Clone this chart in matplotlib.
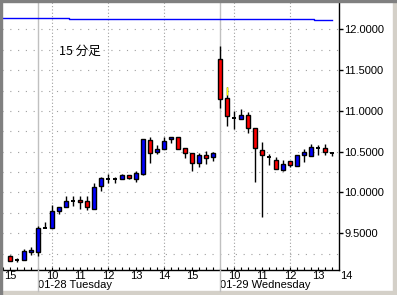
import numpy as np
import matplotlib
matplotlib.use("Agg")
import matplotlib.pyplot as plt
from matplotlib.patches import Rectangle
from matplotlib.lines import Line2D
import matplotlib.transforms as mtransforms

# 15-minute candles: prev-day 15:00-15:45, 01-28 9:30-15:45, 01-29 9:30-13:30
opens = [9.222, 9.169, 9.169, 9.267, 9.275, 9.565, 9.569, 9.777, 9.818, 9.900,
         9.904, 9.900, 9.800, 10.083, 10.169, 10.169, 10.169, 10.210, 10.169, 10.230,
         10.640, 10.500, 10.537, 10.652, 10.676, 10.540, 10.480, 10.358, 10.456, 10.430,
         11.632, 11.154, 10.917, 10.897, 10.946, 10.787, 10.517, 10.440, 10.395, 10.276,
         10.386, 10.321, 10.456, 10.451, 10.549, 10.545, 10.480]
highs = [9.234, 9.194, 9.311, 9.328, 9.589, 9.635, 9.847, 9.818, 9.957, 9.961,
         9.961, 9.957, 10.120, 10.190, 10.227, 10.194, 10.230, 10.210, 10.267, 10.650,
         10.684, 10.580, 10.676, 10.676, 10.676, 10.540, 10.480, 10.490, 10.510, 10.500,
         11.800, 11.290, 11.003, 11.023, 10.983, 10.787, 10.615, 10.468, 10.440, 10.400,
         10.386, 10.460, 10.533, 10.594, 10.586, 10.594, 10.500]
lows = [9.160, 9.145, 9.169, 9.238, 9.226, 9.565, 9.565, 9.733, 9.818, 9.831,
        9.800, 9.790, 9.800, 10.020, 10.113, 10.120, 10.169, 10.160, 10.128, 10.210,
        10.365, 10.475, 10.537, 10.610, 10.537, 10.420, 10.267, 10.310, 10.345, 10.390,
        11.040, 10.810, 10.775, 10.897, 10.733, 10.132, 9.696, 10.337, 10.284, 10.260,
        10.316, 10.321, 10.378, 10.451, 10.463, 10.463, 10.451]
closes = [9.164, 9.169, 9.283, 9.295, 9.561, 9.565, 9.777, 9.818, 9.892, 9.900,
          9.880, 9.826, 10.064, 10.174, 10.169, 10.169, 10.210, 10.174, 10.235, 10.650,
          10.490, 10.533, 10.630, 10.676, 10.537, 10.480, 10.358, 10.460, 10.420, 10.480,
          11.142, 10.940, 10.917, 10.946, 10.787, 10.542, 10.456, 10.440, 10.284, 10.350,
          10.333, 10.460, 10.496, 10.557, 10.549, 10.493, 10.480]

# yellow part of the upper wick on the 01-29 9:45 bar
mark_slot = 31
mark_top = 11.290
mark_bottom = 11.190

# blue reference line across the top (runs of equal level, one value per slot from -1)
ref_levels = [12.135, 12.123, 12.110]
ref_counts = [10, 35, 3]

hour_slots = [0, 6, 10, 14, 18, 22, 26, 32, 36, 40, 44, 48]
hour_labels = ['15', '10', '11', '12', '13', '14', '15', '10', '11', '12', '13', '14']
grid_slots = [6, 14, 22, 32, 40]
day_slots = [4, 30]
day_labels = ['01-28 Tuesday', '01-29 Wednesday']

price_ticks = [9.5, 10.0, 10.5, 11.0, 11.5, 12.0]
grid_prices = np.arange(9.25, 12.01, 0.25)

UP = '#0000ff'
DOWN = '#ff0000'
FONT = 'Liberation Sans'


def draw_candles(ax, o, h, l, c, width=0.68):
    x = np.arange(len(o))
    o, h, l, c = map(np.asarray, (o, h, l, c))
    # wicks first so bodies sit on top
    ax.vlines(x, l, h, color='black', lw=1.0, zorder=3)
    ax.vlines(mark_slot, mark_bottom, mark_top, color='#ffff00', lw=1.0, zorder=4)

    doji = np.isclose(o, c)
    body = ~doji
    lo = np.minimum(o, c)
    hi = np.maximum(o, c)
    colors = np.where(c > o, UP, DOWN)
    ax.bar(x[body], (hi - lo)[body], width, bottom=lo[body], color=colors[body],
           edgecolor='black', linewidth=1.0, zorder=5)
    # doji bars are just a short flat line
    ax.hlines(c[doji], x[doji] - width / 2, x[doji] + width / 2,
              color='black', lw=1.4, zorder=5)


def main():
    fig = plt.figure(figsize=(3.97, 2.95), dpi=100)
    fig.patch.set_facecolor('white')
    ax = fig.add_axes([2 / 397, 25 / 295, 337 / 397, 269 / 295])
    ax.set_facecolor('white')
    ax.set_xlim(-1.14, 47.0)
    ax.set_ylim(9.05, 12.347)

    # --- grid ---
    for p in grid_prices:
        ax.axhline(p, color='#a0a0a0', lw=0.8, ls=(0, (1, 6)), zorder=1)
    for s in grid_slots:
        ax.axvline(s, color='#a0a0a0', lw=0.8, ls=(0, (1, 2)), zorder=1)

    # day separators: inside the axes behind the candles, then on down through the labels
    trans = mtransforms.blended_transform_factory(ax.transData, fig.transFigure)
    for s in day_slots:
        ax.axvline(s, color='#c0c0c0', lw=1.0, zorder=2)
        fig.add_artist(Line2D([s, s], [25 / 295, 1 - 291 / 295], transform=trans,
                              color='#c0c0c0', lw=1.0, zorder=2))

    # --- reference line ---
    ref = np.repeat(ref_levels, ref_counts)
    ax.step(np.arange(-1, len(ref) - 1), ref, where='mid', color='#0000ff', lw=1.0, zorder=3)

    draw_candles(ax, opens, highs, lows, closes)

    ax.text(0.169, 0.814, '15 分足', transform=ax.transAxes, fontsize=9,
            family=['Noto Sans CJK JP', 'DejaVu Sans'], ha='left', va='center')

    # --- axes ---
    for side in ('top', 'left'):
        ax.spines[side].set_visible(False)
    for side in ('right', 'bottom'):
        ax.spines[side].set_linewidth(1.0)
        ax.spines[side].set_color('black')

    ax.yaxis.tick_right()
    ax.set_yticks(price_ticks)
    ax.set_yticklabels([f'{p:.4f}' for p in price_ticks], fontsize=8, family=FONT)
    ax.tick_params(axis='y', direction='out', length=3, width=1, pad=1)

    ax.set_xticks([])
    ax.set_xticks(np.arange(-1, 47), minor=True)
    ax.tick_params(axis='x', which='minor', direction='in', length=2, width=0.8)

    for s, lab in zip(hour_slots, hour_labels):
        ax.text(s, 1 - 271 / 295, lab, transform=trans, fontsize=8, family=FONT,
                ha='center', va='top', clip_on=False)
    for s, lab in zip(day_slots, day_labels):
        ax.text(s, 1 - 280 / 295, lab, transform=trans, fontsize=8, family=FONT,
                ha='left', va='top', clip_on=False)

    # sunken window frame
    fig.add_artist(Rectangle((0, 0), 1, 4 / 295, transform=fig.transFigure,
                             color='#d4d0c8', zorder=0))
    fig.add_artist(Rectangle((393 / 397, 0), 4 / 397, 1, transform=fig.transFigure,
                             color='#d4d0c8', zorder=0))
    fig.add_artist(Rectangle((0, 1 - 1.5 / 295), 1, 1.5 / 295, transform=fig.transFigure,
                             color='#808080', zorder=6))
    fig.add_artist(Rectangle((0, 0), 1.5 / 397, 1, transform=fig.transFigure,
                             color='#808080', zorder=6))

    fig.savefig('out.png', dpi=100)


if __name__ == '__main__':
    main()
